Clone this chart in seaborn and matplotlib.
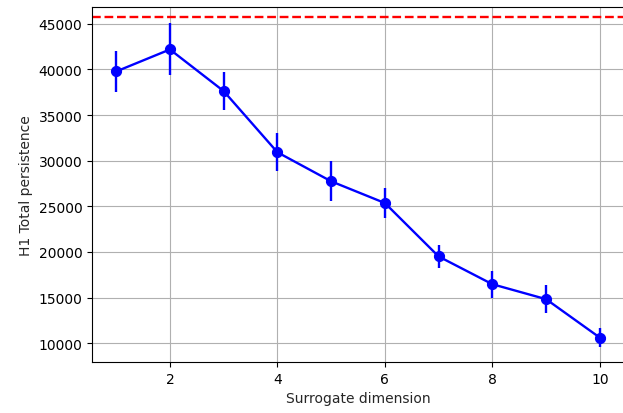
import matplotlib
matplotlib.use("Agg")
import matplotlib.pyplot as plt
import seaborn as sns
import pandas as pd

dims = [1, 2, 3, 4, 5, 6, 7, 8, 9, 10]
persistence = [39770, 42180, 37620, 30920, 27740, 25360, 19510, 16470, 14830, 10620]
errors = [2200, 2850, 2050, 2100, 2200, 1680, 1250, 1480, 1500, 1000]
reference_value = 45735

df = pd.DataFrame({"dim": dims, "tp": persistence, "err": errors})

sns.set_style("ticks")
plt.rcParams['font.family'] = ['DejaVu Sans']

fig = plt.figure(figsize=(6.23, 4.14), dpi=100)
ax = fig.add_axes([92/623, 1 - 363/414, (624-92)/623, (363-8)/414])

ax.errorbar(df["dim"], df["tp"], yerr=df["err"], fmt="none", ecolor="blue", elinewidth=1.7, capsize=0, zorder=3)
sns.lineplot(data=df, x="dim", y="tp", ax=ax, color="blue", marker="o", markersize=7.3,
             markeredgecolor="blue", linewidth=1.7, errorbar=None, zorder=4)
ax.axhline(reference_value, color="red", linestyle="--", linewidth=1.7)

ax.set_xlim(0.55, 10.45)
ax.set_ylim(7950, 46830)
ax.set_xticks([2, 4, 6, 8, 10])
ax.set_yticks([10000, 15000, 20000, 25000, 30000, 35000, 40000, 45000])
ax.grid(True, color="#b0b0b0", linewidth=0.8)
ax.set_axisbelow(True)
for s in ax.spines.values():
    s.set_color("black")
    s.set_linewidth(0.8)
ax.tick_params(labelsize=10, length=3.5, width=0.8, color="black", labelcolor="black")
ax.set_xlabel("Surrogate dimension", fontsize=10)
ax.set_ylabel("H1 Total persistence", fontsize=10)

fig.savefig("out.png", dpi=100)
